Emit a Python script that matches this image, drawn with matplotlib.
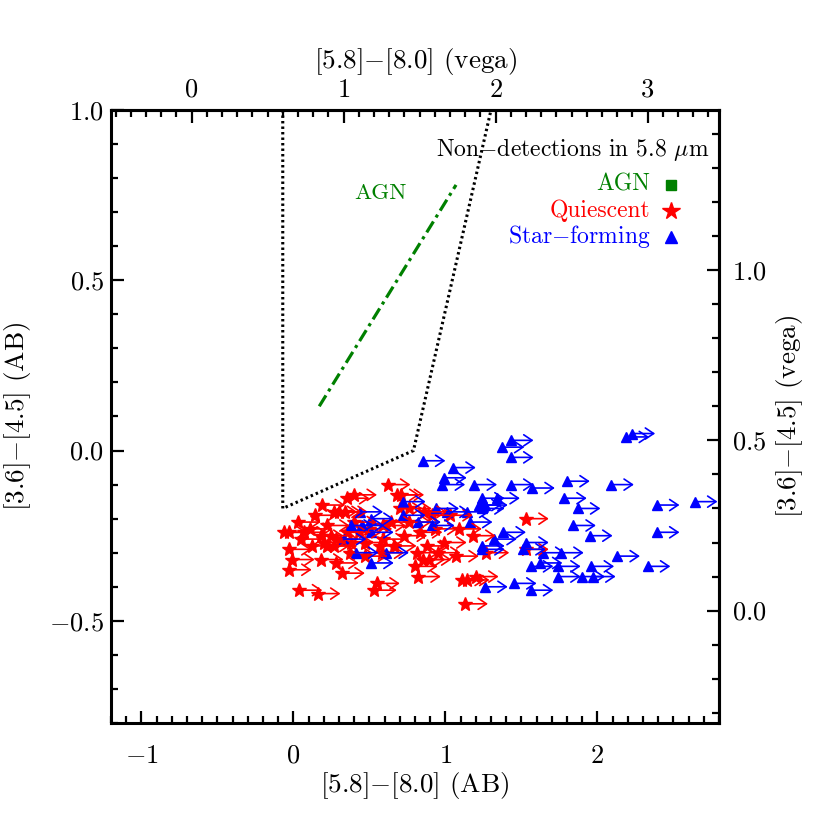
import matplotlib
matplotlib.use("Agg")
import matplotlib.pyplot as plt
from matplotlib.ticker import MultipleLocator, FuncFormatter

plt.rcParams['font.family'] = ['cmr10', 'DejaVu Serif']
plt.rcParams['mathtext.fontset'] = 'cm'
plt.rcParams['axes.unicode_minus'] = False

# ---------------- data (AB colours) ----------------
quiescent_x = [0.35, 0.40, 0.19, 0.27, 0.30, 0.34, 0.03, 0.22, -0.06, -0.03, 0.07, 0.18,
               0.25, 0.28, 0.05, 0.20, 0.35, 0.22, 0.27, -0.03, -0.01, 0.18, 0.28, -0.03,
               0.32, 0.04, 0.16, 0.55, 0.53, 0.62, 0.68, 0.71, 0.70, 0.76, 0.86, 0.91,
               0.76, 0.59, 1.09, 0.83, 0.93, 1.18, 0.73, 0.59, 0.88, 0.81, 0.95, 1.07,
               0.85, 0.89, 0.80, 0.82, 1.11, 1.14, 1.20, 1.13, 0.58, 1.53, 1.53, 1.27,
               0.43, 0.47, 0.40, 0.50, 0.57, 0.37, 0.47, 0.12, 0.11, 0.14, 0.38, 0.64,
               0.66, 0.99, 1.03]
quiescent_y = [-0.14, -0.13, -0.16, -0.18, -0.18, -0.18, -0.21, -0.22, -0.24, -0.24, -0.24, -0.25,
               -0.25, -0.26, -0.26, -0.27, -0.24, -0.28, -0.28, -0.29, -0.32, -0.32, -0.33, -0.35,
               -0.36, -0.41, -0.42, -0.39, -0.41, -0.10, -0.13, -0.13, -0.17, -0.17, -0.18, -0.19,
               -0.21, -0.22, -0.23, -0.24, -0.23, -0.25, -0.25, -0.26, -0.28, -0.30, -0.30, -0.31,
               -0.32, -0.32, -0.34, -0.37, -0.38, -0.38, -0.37, -0.45, -0.30, -0.20, -0.29, -0.30,
               -0.24, -0.27, -0.21, -0.23, -0.28, -0.30, -0.31, -0.28, -0.23, -0.19, -0.27, -0.21,
               -0.28, -0.27, -0.19]

starforming_x = [2.19, 2.23, 2.09, 2.39, 2.64, 2.39, 2.13, 2.33, 1.43, 1.37, 1.43, 1.43,
                 1.57, 1.80, 1.78, 1.87, 1.84, 1.95, 1.24, 1.34, 1.24, 1.26, 1.38, 1.32,
                 1.24, 1.53, 1.51, 1.64, 1.76, 1.56, 1.62, 1.74, 1.96, 1.74, 1.90, 1.97,
                 1.45, 1.26, 1.56, 0.85, 1.05, 0.99, 0.98, 1.19, 1.22, 0.72, 0.94, 1.01,
                 1.14, 0.72, 0.82, 0.91, 1.16, 1.24, 0.61, 0.44, 0.51, 0.38, 0.45, 0.51,
                 0.33, 0.41, 0.51]
starforming_y = [0.04, 0.05, -0.10, -0.16, -0.15, -0.24, -0.31, -0.34, 0.03, 0.01, -0.02, -0.10,
                 -0.11, -0.09, -0.14, -0.17, -0.22, -0.25, -0.14, -0.14, -0.17, -0.16, -0.24, -0.26,
                 -0.29, -0.27, -0.29, -0.30, -0.30, -0.34, -0.33, -0.34, -0.34, -0.37, -0.37, -0.37,
                 -0.39, -0.40, -0.41, -0.03, -0.05, -0.08, -0.10, -0.10, -0.16, -0.15, -0.17, -0.18,
                 -0.18, -0.19, -0.21, -0.22, -0.21, -0.28, -0.30, -0.18, -0.20, -0.22, -0.22, -0.24,
                 -0.26, -0.30, -0.33]

limit_length = 0.15          # length of lower-limit arrows in x

wedge_x = [-0.07, -0.07, 0.79, 1.30]
wedge_y = [1.00, -0.17, 0.00, 1.00]
agn_line_x = [0.17, 1.07]
agn_line_y = [0.13, 0.78]

offset_58_80 = 0.67   # vega = AB + offset
offset_36_45 = 0.47

# ---------------- figure ----------------
fig = plt.figure(figsize=(8.3, 8.3), dpi=100)
ax = fig.add_axes([111/830, 1-723/830, 608/830, 613/830])
ax.set_xlim(-1.2, 2.8)
ax.set_ylim(-0.8, 1.0)

ax.plot(wedge_x, wedge_y, color='black', ls=(0, (0.8, 1.0)), lw=2.2)
ax.plot(agn_line_x, agn_line_y, color='#008000', lw=2.3, ls=(0, (4, 1.5, 1, 1.5)))
ax.text(0.57, 0.755, 'AGN', color='#008000', fontsize=16.5, ha='center', va='center')

def draw(xs, ys, color, marker, ms):
    for x, y in zip(xs, ys):
        ax.annotate('', xy=(x + limit_length, y), xytext=(x, y),
                    arrowprops=dict(arrowstyle='->,head_length=0.6,head_width=0.4',
                                    color=color, lw=1.2, shrinkA=0, shrinkB=0),
                    annotation_clip=False)
    ax.plot(xs, ys, ls='none', marker=marker, color=color, ms=ms, mec=color)

draw(quiescent_x, quiescent_y, 'red', '*', 10)
draw(starforming_x, starforming_y, 'blue', '^', 6.5)

# legend-like text
ax.text(0.985, 0.935, r'Non$-$detections in 5.8 $\mu$m', transform=ax.transAxes,
        ha='right', va='center', fontsize=17)
labels = ['AGN', 'Quiescent', r'Star$-$forming']
colors = ['#008000', 'red', 'blue']
markers = ['s', '*', '^']
msz = [7, 13, 8]
ys_leg = [0.878, 0.836, 0.793]
for lab, c, m, s, yy in zip(labels, colors, markers, msz, ys_leg):
    ax.text(0.887, yy, lab, color=c, transform=ax.transAxes, ha='right', va='center', fontsize=17)
    ax.plot([0.921], [yy], marker=m, color=c, ms=s, transform=ax.transAxes, clip_on=False)

# ---------------- axes styling ----------------
for sp in ax.spines.values():
    sp.set_linewidth(2.2)

fmt1 = FuncFormatter(lambda v, p: r'$%.1f$' % v if abs(v) > 1e-9 else r'$0.0$')
fmt0 = FuncFormatter(lambda v, p: r'$%d$' % round(v))

TS = 19
LS = 19.5
ax.xaxis.set_major_locator(MultipleLocator(1))
ax.xaxis.set_minor_locator(MultipleLocator(0.1))
ax.yaxis.set_major_locator(MultipleLocator(0.5))
ax.yaxis.set_minor_locator(MultipleLocator(0.1))
ax.xaxis.set_major_formatter(fmt0)
ax.yaxis.set_major_formatter(fmt1)
ax.tick_params(which='both', direction='in', top=False, right=False, labelsize=TS, width=1.6)
ax.tick_params(axis='x', which='major', length=9, pad=15)
ax.tick_params(axis='y', which='major', length=9, pad=5)
ax.tick_params(which='minor', length=5)

ax.set_xlabel(r'[5.8]$-$[8.0] (AB)', fontsize=LS, labelpad=2)
ax.set_ylabel(r'[3.6]$-$[4.5] (AB)', fontsize=LS, labelpad=12)

top = ax.secondary_xaxis('top', functions=(lambda x: x + offset_58_80, lambda x: x - offset_58_80))
top.xaxis.set_major_locator(MultipleLocator(1))
top.xaxis.set_minor_locator(MultipleLocator(0.1))
top.xaxis.set_major_formatter(fmt0)
top.tick_params(which='both', direction='in', labelsize=TS, width=1.6)
top.tick_params(which='major', length=9, pad=6)
top.tick_params(which='minor', length=5)
top.set_xlabel(r'[5.8]$-$[8.0] (vega)', fontsize=LS, labelpad=7)
top.spines['top'].set_linewidth(2.2)

right = ax.secondary_yaxis('right', functions=(lambda y: y + offset_36_45, lambda y: y - offset_36_45))
right.yaxis.set_major_locator(MultipleLocator(0.5))
right.yaxis.set_minor_locator(MultipleLocator(0.1))
right.yaxis.set_major_formatter(fmt1)
right.tick_params(which='both', direction='in', labelsize=TS, width=1.6)
right.tick_params(which='major', length=9, pad=9)
right.tick_params(which='minor', length=5)
right.set_ylabel(r'[3.6]$-$[4.5] (vega)', fontsize=LS, labelpad=6)
right.spines['right'].set_linewidth(2.2)

fig.savefig('out.png', dpi=100)
